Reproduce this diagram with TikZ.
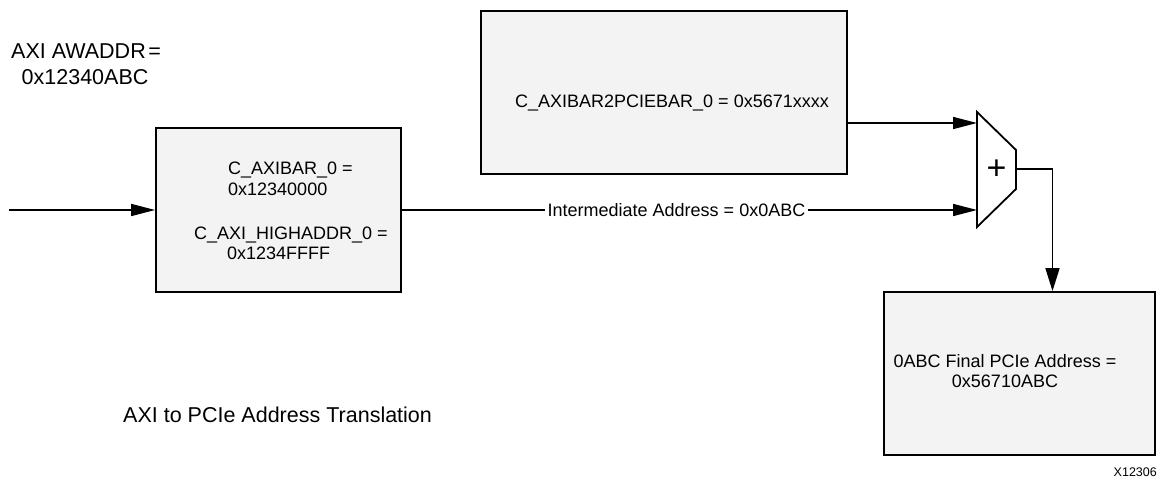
\documentclass[tikz,border=0pt]{standalone}
\usepackage{fontspec}
\setmainfont{Liberation Sans}
\usetikzlibrary{arrows.meta}
\definecolor{boxgray}{HTML}{F3F3F3}
\begin{document}
\begin{tikzpicture}[x=1pt,y=-1pt,
  blk/.style={draw=black,line width=1.8pt,fill=boxgray,inner sep=0pt},
  conn/.style={line width=1.6pt,-{Triangle[length=24pt,width=12pt]}},
  plain/.style={line width=1.6pt},
  txt/.style={inner sep=0pt,font=\fontsize{18}{21}\selectfont},
  bigtxt/.style={inner sep=0pt,font=\fontsize{21.5}{25}\selectfont},
  smalltxt/.style={inner sep=0pt,font=\fontsize{12.5}{14}\selectfont}]
\useasboundingbox (0,0) rectangle (1163,481);

% blocks
\node[blk,minimum width=245pt,minimum height=164pt] (box1) at (278.5,210) {};
\node[blk,minimum width=366pt,minimum height=163pt] (box2) at (664,92.5) {};
\node[blk,minimum width=271pt,minimum height=163pt] (box3) at (1019.5,373.5) {};

% adder
\draw[line width=1.8pt,line join=miter] (977,112) -- (1016,150) -- (1016,189) -- (977,227) -- cycle;
\node[inner sep=0pt,font=\fontsize{34}{36}\selectfont] (plus) at (996.5,170) {+};
\coordinate (in1) at (977,123);
\coordinate (in2) at (977,210);
\coordinate (out) at (1016,169);
\coordinate (src) at (9,210);

% texts in blocks
\node[txt,anchor=base west] (t1) at (228,174.5) {C\_AXIBAR\_0 =};
\node[txt,anchor=base west] (t2) at (228,195.5) {0x12340000};
\node[txt,anchor=base west] (t3) at (194,239.2) {C\_AXI\_HIGHADDR\_0 =};
\node[txt,anchor=base west] (t4) at (227,259.5) {0x1234FFFF};
\node[txt,anchor=base] (t5) at (672,108) {C\_AXIBAR2PCIEBAR\_0 = 0x5671xxxx};
\node[txt,anchor=base] (t6) at (1005,367.5) {0ABC Final PCIe Address =};
\node[txt,anchor=base] (t7) at (1005,387) {0x56710ABC};

% free labels
\node[bigtxt,anchor=base west] (l1) at (11,58.3) {AXI AWADDR\hspace{0.12em}=};
\node[bigtxt,anchor=base west] (l2) at (21.5,85) {0x12340ABC};
\node[bigtxt,anchor=base west] (l3) at (123,422.3) {AXI to PCIe Address Translation};
\node[smalltxt,anchor=base east] (l4) at (1157,476.7) {X12306};

% connectors
\draw[conn] (src) -- (box1.west);
\draw[conn] (box1.east) -- (in2);
\node[txt,fill=white,inner xsep=3pt,inner ysep=2pt] (mid) at (676.5,210) {Intermediate Address = 0x0ABC};
\draw[conn] (box2.east |- in1) -- (in1);
\draw[plain,-{Triangle[length=23pt,width=14pt]}] (out) -| ([xshift=33pt]box3.north);
\end{tikzpicture}
\end{document}
